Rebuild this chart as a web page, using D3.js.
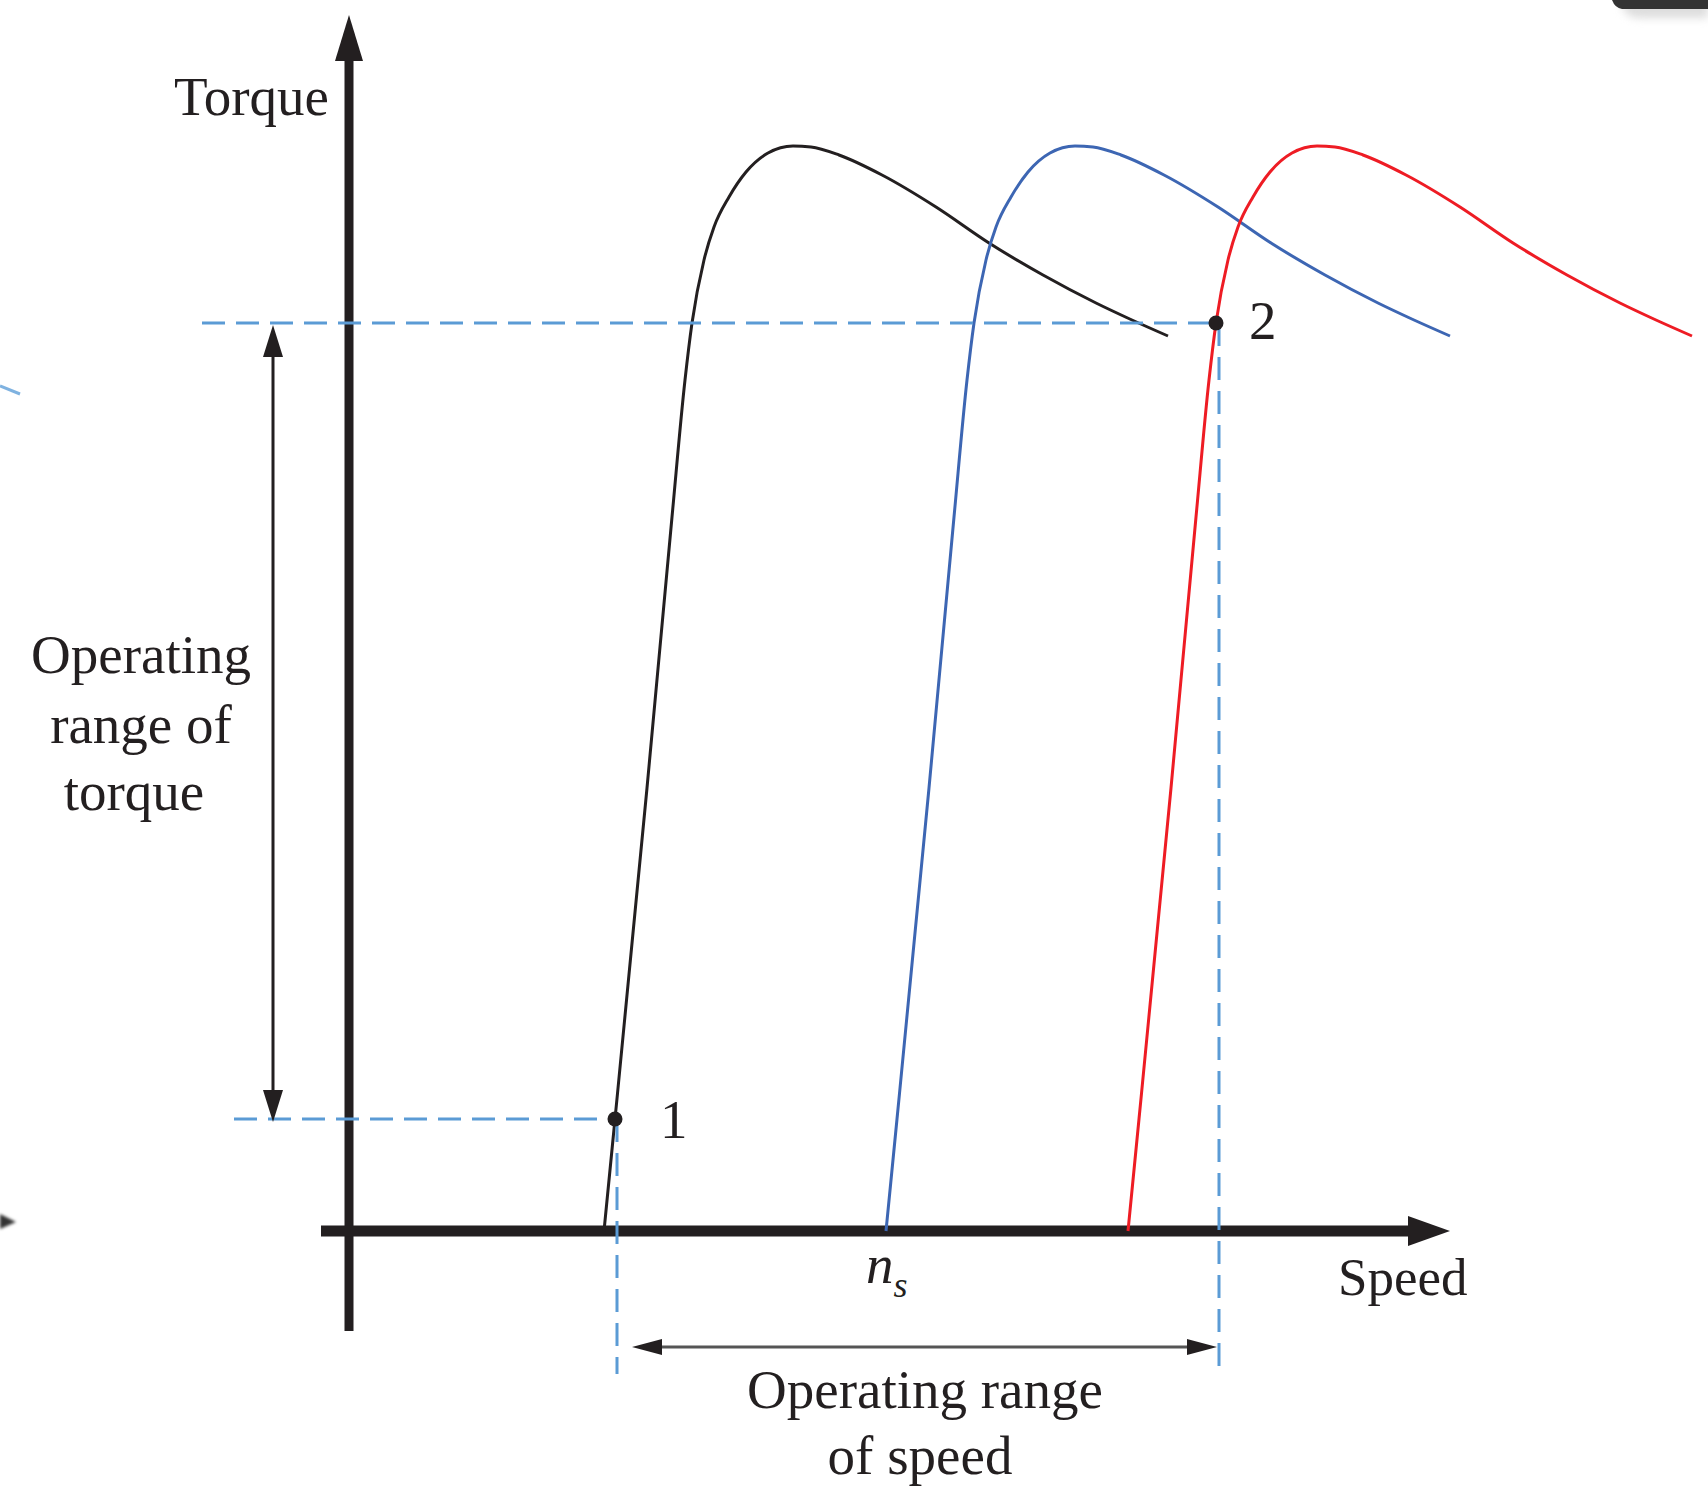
<!DOCTYPE html>
<html>
<head>
<meta charset="utf-8">
<script src="https://d3js.org/d3.v7.min.js"></script>
<style>
body { margin: 0; background: #fff; }
text { font-family: "Liberation Serif", "DejaVu Serif", serif; fill: #231f20; }
</style>
</head>
<body>
<div id="container"></div>
<script>
const width = 1708;
const height = 1487;

// torque-speed curves, [speed, torque] (arbitrary units)
const curveBlack = [[25.5,0],[26.6,11.2],[29.8,44.3],[32.3,71.4],[33.6,85.1],[34.3,90.8],[35.5,97.1],[36.5,100.4],[38.0,103.4],[39.7,105.9],[41.9,107.8],[44.4,108.5],[46.2,108.4],[49.0,107.6],[53.3,105.6],[58.7,102.4],[64.0,98.8],[69.4,95.6],[74.7,92.8],[78.3,91.1],[81.9,89.5]];
const curveBlue = [[53.7,0],[54.8,11.2],[58.0,44.3],[60.5,71.4],[61.8,85.1],[62.5,90.8],[63.7,97.1],[64.7,100.4],[66.2,103.4],[67.9,105.9],[70.1,107.8],[72.6,108.5],[74.4,108.4],[77.2,107.6],[81.5,105.6],[86.9,102.4],[92.2,98.8],[97.6,95.6],[102.9,92.8],[106.5,91.1],[110.1,89.5]];
const curveRed = [[77.9,0],[79.0,11.2],[82.2,44.3],[84.7,71.4],[86.0,85.1],[86.7,90.8],[87.9,97.1],[88.9,100.4],[90.4,103.4],[92.1,105.9],[94.3,107.8],[96.8,108.5],[98.6,108.4],[101.4,107.6],[105.7,105.6],[111.1,102.4],[116.4,98.8],[121.8,95.6],[127.1,92.8],[130.7,91.1],[134.3,89.5]];
const seriesColors = ["#231f20", "#3d66b3", "#ee1c24"];

// operating points
const point1 = [26.6, 11.2];
const point2 = [86.7, 90.8];
const pointLabels = ["1", "2"];
const nsSpeed = 53.7;

const ink = "#231f20";
const dashBlue = "#5b9bd5";

const svg = d3.select("div#container").append("svg")
    .attr("width", width)
    .attr("height", height)
    .style("display", "block");

const xScale = d3.scaleLinear().domain([0, 110]).range([349, 1449]);
const yScale = d3.scaleLinear().domain([0, 120]).range([1231, 31]);

function arrowHead(x, y, dir, len, half, color) {
    // dir: "up", "down", "left", "right" ; (x,y) is the tip
    let pts;
    if (dir === "up") pts = [[x, y], [x - half, y + len], [x + half, y + len]];
    if (dir === "down") pts = [[x, y], [x - half, y - len], [x + half, y - len]];
    if (dir === "left") pts = [[x, y], [x + len, y - half], [x + len, y + half]];
    if (dir === "right") pts = [[x, y], [x - len, y - half], [x - len, y + half]];
    svg.append("path")
        .attr("d", "M" + pts.map(function(p) { return p.join(","); }).join("L") + "Z")
        .attr("fill", color);
}

// crop leftovers at the image edges
svg.append("path").attr("d", "M0,386L20,394").attr("stroke", "#7fb2e0").attr("stroke-width", 3);
svg.append("path").attr("d", "M0,1214L16,1222L0,1229Z").attr("fill", "#333").style("filter", "blur(1.5px)");
svg.append("path").attr("d", "M1622,0L1708,0L1708,18L1640,18Q1626,18 1622,6Z").attr("fill", "#ddd").style("filter", "blur(4px)");
svg.append("path").attr("d", "M1612,0L1708,0L1708,9L1622,9Q1615,8 1612,0Z").attr("fill", "#333");

// axes
const x0 = xScale(0), y0 = yScale(0);
svg.append("line")
    .attr("x1", x0).attr("x2", x0)
    .attr("y1", yScale(-10)).attr("y2", yScale(117.5))
    .attr("stroke", ink).attr("stroke-width", 9);
arrowHead(x0, yScale(121.6), "up", 46, 14, ink);

svg.append("line")
    .attr("x1", xScale(-2.8)).attr("x2", xScale(106.3))
    .attr("y1", y0).attr("y2", y0)
    .attr("stroke", ink).attr("stroke-width", 11);
arrowHead(xScale(110.1), y0, "right", 42, 15, ink);

// curves
const line = d3.line()
    .x(function(d) { return xScale(d[0]); })
    .y(function(d) { return yScale(d[1]); })
    .curve(d3.curveMonotoneX);

svg.selectAll(".tcurve").data([curveBlack, curveBlue, curveRed]).enter()
    .append("path")
    .attr("class", "tcurve")
    .attr("d", function(d) { return line(d); })
    .attr("fill", "none")
    .attr("stroke", function(d, i) { return seriesColors[i]; })
    .attr("stroke-width", 3);

// dashed guides
const p1x = xScale(point1[0]), p1y = yScale(point1[1]);
const p2x = xScale(point2[0]), p2y = yScale(point2[1]);
const guides = [
    [xScale(-14.7), p2y, p2x, p2y],
    [xScale(-11.5), p1y, p1x, p1y],
    [p1x + 2, p1y, p1x + 2, yScale(-14.3)],
    [p2x + 3, p2y, p2x + 3, yScale(-13.9)]
];
svg.selectAll(".guide").data(guides).enter()
    .append("line")
    .attr("class", "guide")
    .attr("x1", function(d) { return d[0]; })
    .attr("y1", function(d) { return d[1]; })
    .attr("x2", function(d) { return d[2]; })
    .attr("y2", function(d) { return d[3]; })
    .attr("stroke", dashBlue)
    .attr("stroke-width", 3)
    .attr("stroke-dasharray", "23,11");

// operating points
svg.selectAll(".opt").data([point1, point2]).enter()
    .append("circle")
    .attr("cx", function(d) { return xScale(d[0]); })
    .attr("cy", function(d) { return yScale(d[1]); })
    .attr("r", 7.5)
    .attr("fill", ink);

svg.append("text").attr("x", p1x + 45).attr("y", p1y + 19)
    .attr("font-size", 55).text(pointLabels[0]);
svg.append("text").attr("x", p2x + 33).attr("y", p2y + 16)
    .attr("font-size", 55).text(pointLabels[1]);

// torque range arrow
const tx = xScale(-7.6);
svg.append("line").attr("x1", tx).attr("x2", tx)
    .attr("y1", p2y + 20).attr("y2", p1y - 20)
    .attr("stroke", ink).attr("stroke-width", 3);
arrowHead(tx, p2y + 2, "up", 32, 10, ink);
arrowHead(tx, p1y + 3, "down", 32, 10, ink);

// speed range arrow
const sy = yScale(-11.6);
const sx1 = p1x + 17, sx2 = p2x + 1;
svg.append("line").attr("x1", sx1 + 20).attr("x2", sx2 - 20)
    .attr("y1", sy).attr("y2", sy)
    .attr("stroke", "#555").attr("stroke-width", 3);
arrowHead(sx1, sy, "left", 30, 8, ink);
arrowHead(sx2, sy, "right", 30, 8, ink);

// labels
svg.append("text").attr("x", 329).attr("y", 115)
    .attr("text-anchor", "end").attr("font-size", 55).text("Torque");

svg.append("text").attr("x", 1338).attr("y", 1295)
    .attr("font-size", 53).text("Speed");

const ns = svg.append("text").attr("x", xScale(nsSpeed) - 20).attr("y", 1283)
    .attr("font-size", 55).attr("font-style", "italic");
ns.append("tspan").text("n");
ns.append("tspan").attr("font-size", 36).attr("dy", 14).text("s");

const torqueLines = [["Operating", 141, 673], ["range of", 141, 743], ["torque", 134, 810]];
svg.selectAll(".tlab").data(torqueLines).enter()
    .append("text")
    .attr("x", function(d) { return d[1]; })
    .attr("y", function(d) { return d[2]; })
    .attr("text-anchor", "middle")
    .attr("font-size", 55)
    .text(function(d) { return d[0]; });

const speedLines = [["Operating range", 925, 1408], ["of speed", 920, 1474]];
svg.selectAll(".slab").data(speedLines).enter()
    .append("text")
    .attr("x", function(d) { return d[1]; })
    .attr("y", function(d) { return d[2]; })
    .attr("text-anchor", "middle")
    .attr("font-size", 55)
    .text(function(d) { return d[0]; });
</script>
</body>
</html>
